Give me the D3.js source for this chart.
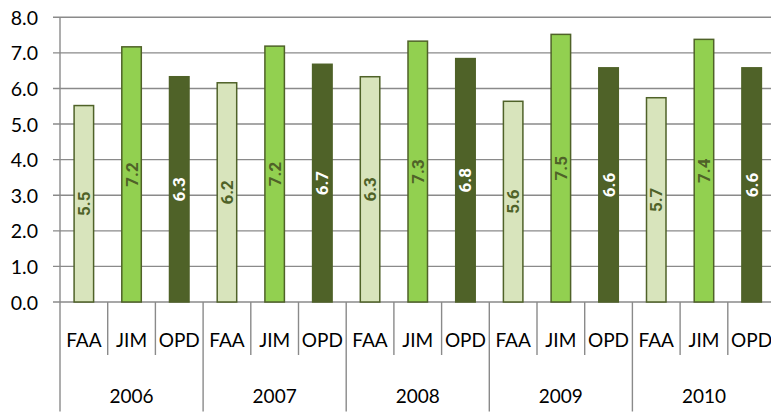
<!DOCTYPE html>
<html><head><meta charset="utf-8">
<script src="https://cdn.jsdelivr.net/npm/d3@7"></script>
<style>body{margin:0;background:#fff;overflow:hidden}svg{display:block}</style>
</head><body>
<script>
const years = ["2006","2007","2008","2009","2010"];
const series = ["FAA","JIM","OPD"];
const FAA = [5.52, 6.16, 6.33, 5.64, 5.74];
const JIM = [7.17, 7.19, 7.33, 7.52, 7.38];
const OPD = [6.33, 6.68, 6.84, 6.58, 6.58];
const yTicks = [0,1,2,3,4,5,6,7,8];

(function(){
const vals = {FAA, JIM, OPD};
const fills = {FAA:"#d8e4bc", JIM:"#92d050", OPD:"#4f6228"};
const labelCol = {FAA:"#4f6228", JIM:"#4f6228", OPD:"#ffffff"};

const W = 771, H = 418;
const svg = d3.select("body").append("svg").attr("width", W).attr("height", H);

const pL = 60, pR = 775.5, pT = 17.3, pB = 302;
const cats = [];
years.forEach((yr, i) => series.forEach(s => cats.push({key: yr + "-" + s, year: yr, s, v: vals[s][i]})));

const x = d3.scaleBand().domain(cats.map(d => d.key)).range([pL, pR]).paddingInner(0).paddingOuter(0);
const y = d3.scaleLinear().domain([0, 8]).range([pB, pT]);
const gridCol = "#8a8a8a";

svg.append("g").selectAll("line").data(yTicks).join("line")
  .attr("x1", pL - 7).attr("x2", pR)
  .attr("y1", d => y(d)).attr("y2", d => y(d))
  .attr("stroke", gridCol).attr("stroke-width", 1.4);

svg.append("line").attr("x1", pL).attr("x2", pL).attr("y1", pT).attr("y2", 411.5)
  .attr("stroke", gridCol).attr("stroke-width", 1.4);

svg.append("g").selectAll("text").data(yTicks).join("text")
  .attr("x", 38).attr("y", d => y(d)).attr("text-anchor", "end").attr("dominant-baseline", "central")
  .attr("font-family", "Lato, 'Open Sans', sans-serif").attr("font-size", 19.5).attr("fill", "#000")
  .text(d3.format(".1f"));

const bw = 19.5;
svg.append("g").selectAll("rect").data(cats).join("rect")
  .attr("x", d => x(d.key) + x.bandwidth()/2 - bw/2)
  .attr("width", bw)
  .attr("y", d => y(d.v))
  .attr("height", d => y(0) - y(d.v))
  .attr("fill", d => fills[d.s])
  .attr("stroke", "#4f6228").attr("stroke-width", 1.5);

svg.append("g").selectAll("text").data(cats).join("text")
  .attr("transform", d => `translate(${x(d.key) + x.bandwidth()/2},${(y(d.v) + y(0))/2}) rotate(-90)`)
  .attr("text-anchor", "middle").attr("dominant-baseline", "central")
  .attr("font-family", "Roboto, sans-serif").attr("font-weight", 700)
  .attr("font-size", 17).attr("fill", d => labelCol[d.s])
  .text(d => d3.format(".1f")(d.v));

svg.append("g").selectAll("line").data(cats.slice(1)).join("line")
  .attr("x1", d => x(d.key)).attr("x2", d => x(d.key))
  .attr("y1", pB).attr("y2", d => d.s === "FAA" ? 411.5 : 355)
  .attr("stroke", gridCol).attr("stroke-width", 1.4);
svg.append("line").attr("x1", pR).attr("x2", pR).attr("y1", pB).attr("y2", 411.5)
  .attr("stroke", gridCol).attr("stroke-width", 1.4);

svg.append("g").selectAll("text").data(cats).join("text")
  .attr("x", d => x(d.key) + x.bandwidth()/2).attr("y", 339)
  .attr("text-anchor", "middle").attr("dominant-baseline", "central")
  .attr("font-family", "Lato, 'Open Sans', sans-serif").attr("font-size", 19).attr("fill", "#000")
  .text(d => d.s);

svg.append("g").selectAll("text").data(years).join("text")
  .attr("x", yr => (x(yr + "-FAA") + x(yr + "-OPD") + x.bandwidth())/2).attr("y", 395)
  .attr("text-anchor", "middle").attr("dominant-baseline", "central")
  .attr("font-family", "Lato, 'Open Sans', sans-serif").attr("font-size", 19).attr("fill", "#000")
  .text(d => d);
})();
</script>
</body></html>
